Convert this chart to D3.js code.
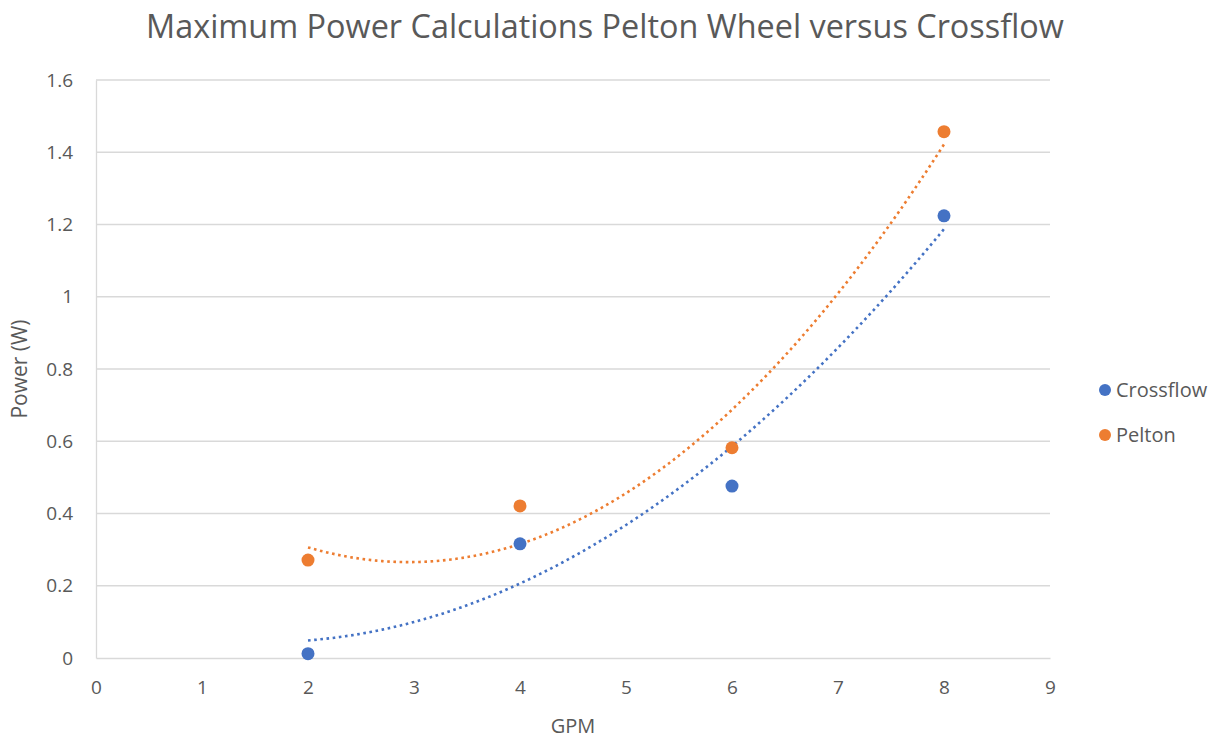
<!DOCTYPE html>
<html>
<head>
<meta charset="utf-8">
<script src="https://cdn.jsdelivr.net/npm/d3@7"></script>
<style>
  html, body { margin: 0; padding: 0; background: #fff; }
  svg { display: block; font-family: "Open Sans", "Noto Sans", sans-serif; }
</style>
</head>
<body>
<svg id="chart" width="1222" height="740"></svg>
<script>
// Flow rate (GPM) and measured maximum power (W) for each turbine
const gpm = [2, 4, 6, 8];
const crossflow = [0.012, 0.316, 0.476, 1.224];
const pelton = [0.271, 0.421, 0.582, 1.457];
const seriesNames = ["Crossflow", "Pelton"];
const seriesColors = ["#4472C4", "#ED7D31"];
const xTicks = [0, 1, 2, 3, 4, 5, 6, 7, 8, 9];
const yTicks = [0, 0.2, 0.4, 0.6, 0.8, 1, 1.2, 1.4, 1.6];

const svg = d3.select("#chart");
const margin = { left: 96, right: 172, top: 80, bottom: 82 };
const W = 1222, H = 740;

const x = d3.scaleLinear().domain([0, 9]).range([margin.left, W - margin.right]);
const y = d3.scaleLinear().domain([0, 1.6]).range([H - margin.bottom, margin.top]);

const textColor = "#595959";
const gridColor = "#D9D9D9";

// Least-squares quadratic (order 2 polynomial trendline)
function polyFit2(xs, ys) {
  let s = [0, 0, 0, 0, 0], t = [0, 0, 0];
  xs.forEach((xv, i) => {
    for (let k = 0; k < 5; k++) s[k] += Math.pow(xv, k);
    for (let k = 0; k < 3; k++) t[k] += ys[i] * Math.pow(xv, k);
  });
  const A = [[s[0], s[1], s[2]], [s[1], s[2], s[3]], [s[2], s[3], s[4]]];
  const b = t.slice();
  for (let i = 0; i < 3; i++) {
    for (let j = i + 1; j < 3; j++) {
      const f = A[j][i] / A[i][i];
      for (let k = i; k < 3; k++) A[j][k] -= f * A[i][k];
      b[j] -= f * b[i];
    }
  }
  const c = [0, 0, 0];
  for (let i = 2; i >= 0; i--) {
    let v = b[i];
    for (let k = i + 1; k < 3; k++) v -= A[i][k] * c[k];
    c[i] = v / A[i][i];
  }
  return xv => c[0] + c[1] * xv + c[2] * xv * xv;
}

// Horizontal gridlines
svg.append("g").selectAll("line")
  .data(yTicks.filter(v => v > 0))
  .join("line")
  .attr("x1", x(0)).attr("x2", x(9))
  .attr("y1", d => y(d)).attr("y2", d => y(d))
  .attr("stroke", gridColor).attr("stroke-width", 1.3);

// Axes
const xAxis = svg.append("g")
  .attr("transform", `translate(0,${y(0)})`)
  .call(d3.axisBottom(x).tickValues(xTicks).tickSize(0).tickPadding(23).tickFormat(d3.format("d")));
const yAxis = svg.append("g")
  .attr("transform", `translate(${x(0)},0)`)
  .call(d3.axisLeft(y).tickValues(yTicks).tickSize(0).tickPadding(23).tickFormat(d => String(d)));
[xAxis, yAxis].forEach(g => {
  g.select(".domain").attr("stroke", gridColor).attr("stroke-width", 1.3);
  g.selectAll("text").attr("fill", textColor).attr("font-size", 19)
    .attr("font-family", "\"Open Sans\", sans-serif");
});

// Trendlines
const series = [crossflow, pelton];
const xs = d3.range(2, 8.0001, 0.05);
series.forEach((vals, i) => {
  const f = polyFit2(gpm, vals);
  svg.append("path")
    .datum(xs)
    .attr("fill", "none")
    .attr("stroke", seriesColors[i])
    .attr("stroke-width", 2.6)
    .attr("stroke-dasharray", "2.6,3.6")
    .attr("d", d3.line().x(d => x(d)).y(d => y(f(d))));
});

// Points
series.forEach((vals, i) => {
  svg.append("g").selectAll("circle")
    .data(vals)
    .join("circle")
    .attr("cx", (d, j) => x(gpm[j]))
    .attr("cy", d => y(d))
    .attr("r", 6.5)
    .attr("fill", seriesColors[i]);
});

// Title
svg.append("text")
  .attr("x", 605).attr("y", 38)
  .attr("text-anchor", "middle")
  .attr("font-size", 32.4)
  .attr("fill", textColor)
  .text("Maximum Power Calculations Pelton Wheel versus Crossflow");

// Axis titles
svg.append("text")
  .attr("x", x(4.5)).attr("y", 733)
  .attr("text-anchor", "middle")
  .attr("font-size", 20)
  .attr("fill", textColor)
  .text("GPM");
svg.append("text")
  .attr("transform", `translate(27,${y(0.8)}) rotate(-90)`)
  .attr("text-anchor", "middle")
  .attr("font-size", 21)
  .attr("fill", textColor)
  .text("Power (W)");

// Legend
const legend = svg.append("g").attr("transform", "translate(1105,390)");
seriesNames.forEach((name, i) => {
  const g = legend.append("g").attr("transform", `translate(0,${i * 45})`);
  g.append("circle").attr("r", 6).attr("fill", seriesColors[i]);
  g.append("text").attr("x", 11).attr("y", 7)
    .attr("font-size", 20).attr("fill", textColor).text(name);
});
</script>
</body>
</html>
